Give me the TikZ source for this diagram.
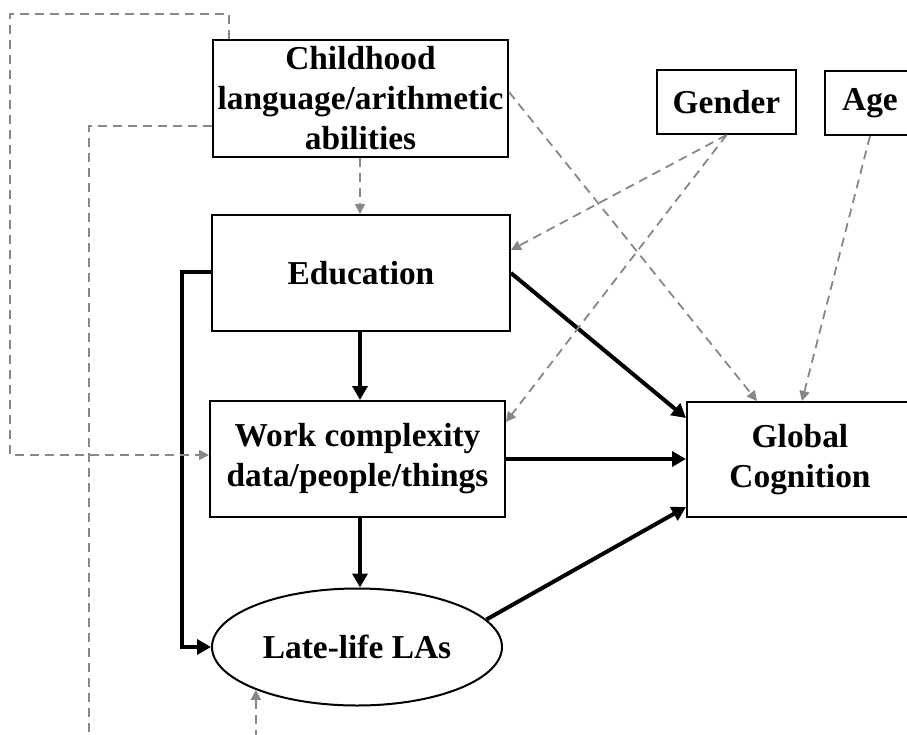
\documentclass[tikz,border=0pt]{standalone}
\usepackage{fontspec}
\setmainfont{Liberation Serif}
\usetikzlibrary{arrows.meta,shapes.geometric}
\begin{document}
\begin{tikzpicture}[x=0.5pt,y=-0.5pt,
  box/.style={draw,line width=1pt,fill=white,rectangle,inner sep=0pt,align=center,
    font=\bfseries\fontsize{16.7}{20}\selectfont},
  solidarr/.style={line width=2pt,-{Triangle[length=7pt,width=7.5pt]}},
  dsh/.style={draw=black!47,line width=0.9pt,dash pattern=on 4.5pt off 3pt},
  dsharr/.style={dsh,-{Triangle[length=5pt,width=5pt]},black!47}]
\useasboundingbox (0,0) rectangle (907,735);
\clip (0,0) rectangle (907,735);
% nodes
\node[box,minimum width=147.5pt,minimum height=58.5pt] (child) at (360.5,98.5)
  {Childhood\\language/arithmetic\\abilities};
\node[box,minimum width=149pt,minimum height=58pt] (edu) at (361,273) {Education};
\node[box,minimum width=147.5pt,minimum height=58pt] (work) at (357.5,459)
  {Work complexity\\data/people/things};
\node[box,ellipse,minimum width=145pt,minimum height=58.5pt] (ell) at (357,647) {Late-life LAs};
\node[box,minimum width=113pt,minimum height=57.5pt] (glob) at (800,459.5) {Global\\Cognition};
\node[box,minimum width=69.5pt,minimum height=32pt] (gender) at (726.5,102) {Gender};
\node[box,minimum width=45pt,minimum height=32pt] (age) at (870,103) {Age};
% coordinates for routing
\coordinate (c1) at (229,14);
\coordinate (c2) at (10,14);
\coordinate (c3) at (10,455);
\coordinate (d1) at (89,126);
\coordinate (d2) at (89,790);
\coordinate (e1) at (182,272);
\coordinate (v) at (360,0);
% solid arrows
\draw[solidarr] (edu.south -| v) -- (work.north -| v);
\draw[solidarr] (work.south -| v) -- (ell.north -| v);
\draw[solidarr] (edu.east) -- (glob.west |- 0,418);
\draw[solidarr] (work.east) -- (glob.west |- work.east);
\draw[solidarr] (ell.12) -- (glob.west |- 0,507);
\draw[solidarr] (edu.west |- e1) -- (e1) |- (ell.west);
% dashed arrows
\draw[dsharr] (child.north -| c1) -- (c1) -- (c2) -- (c3) -- (work.west |- c3);
\draw[dsharr] (child.west |- d1) -- (d1) -- (d2) -| (ell.203);
\draw[dsharr] (child.south -| v) -- (edu.north -| v);
\draw[dsharr] (child.east |- 0,92) -- (glob.north -| 757,0);
\draw[dsharr] (gender.south) -- (edu.east |- 0,250);
\draw[dsharr] (gender.south) -- (work.east |- 0,422);
\draw[dsharr] (age.south) -- (glob.north -| 802,0);
\end{tikzpicture}
\end{document}
